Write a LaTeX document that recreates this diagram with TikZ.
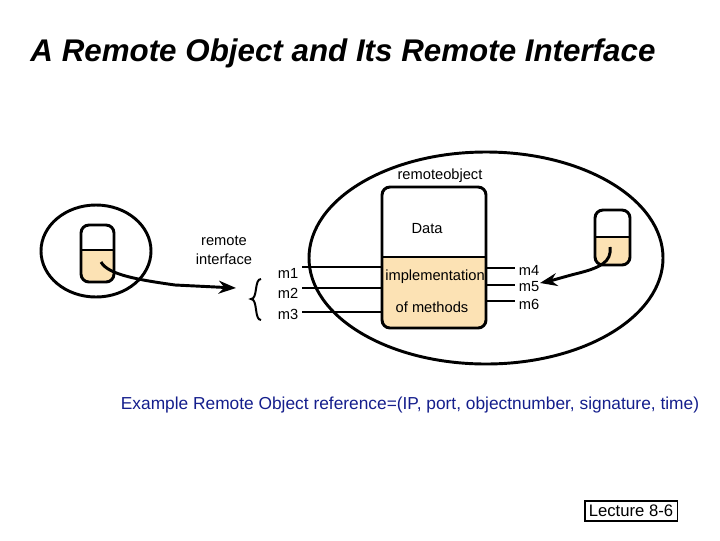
\documentclass[tikz,border=0pt]{standalone}
\usepackage{fontspec}
\setmainfont{Liberation Sans}
\usetikzlibrary{arrows.meta,positioning,decorations.pathreplacing}
\definecolor{implfill}{RGB}{252,226,180}
\definecolor{refblue}{RGB}{20,30,140}
\begin{document}
\begin{tikzpicture}[x=0.75pt, y=-0.75pt, >=Stealth,
	txt/.style={font=\fontsize{11}{12}\selectfont, inner sep=1pt},
	method/.style={line width=2.2pt},
	]
	\useasboundingbox (0,0) rectangle (720,540);
	\node[font=\fontsize{23.5}{26}\bfseries\itshape\selectfont](title) at (343,53) {A Remote Object and Its Remote Interface};
	% remote object
	\draw[line width=2.2pt] (486,258) ellipse (177 and 106);
	\begin{scope}
		\clip[rounded corners=6pt] (382,187) rectangle (486,328);
		\fill[implfill] (382,257) rectangle (486,328);
	\end{scope}
	\draw[line width=2.2pt, rounded corners=6pt] (382,187) rectangle (486,328);
	\draw[line width=2.2pt] (382,257) -- (486,257);
	\node[txt](obj) at (440,176) {remoteobject};
	\node[txt](data) at (427,229) {Data};
	\node[txt](impl) at (435,277) {implementation};
	\node[txt](meth) at (432,307) {of methods};
	% methods
	\foreach \m/\y in {1/267,2/288,3/312}
		{\draw[method] (302,\y) -- (382,\y);}
	\foreach \m/\y in {4/268,5/285,6/301}
		{\draw[method] (486,\y) -- (515,\y);}
	\node[txt](m1) at (288,273) {m1};
	\node[txt](m2) at (288,293) {m2};
	\node[txt](m3) at (288,314) {m3};
	\node[txt](m4) at (529,270) {m4};
	\node[txt](m5) at (529,287) {m5};
	\node[txt](m6) at (529,304) {m6};
	\draw[line width=1.5pt] (261,279) .. controls (254,279) and (258,299) .. (251,299)
		.. controls (258,299) and (254,320) .. (261,320);
	\node[txt, align=center](iface) at (224,250) {remote\\[2pt]interface};
	% client
	\draw[line width=2.2pt] (96,251) ellipse (55 and 46);
	\begin{scope}
		\clip[rounded corners=6pt] (81,225) rectangle (114,282);
		\fill[implfill] (81,250) rectangle (114,282);
	\end{scope}
	\draw[line width=2.2pt, rounded corners=6pt] (81,225) rectangle (114,282);
	\draw[line width=2.2pt] (81,250) -- (114,250);
	\coordinate (cl) at (101,262);
	\draw[line width=2.2pt, ->] (cl) .. controls (108,275) and (140,280) .. (175,285) -- (236,288);
	% server side stub
	\begin{scope}
		\clip[rounded corners=6pt] (595,210) rectangle (630,265);
		\fill[implfill] (595,237) rectangle (630,265);
	\end{scope}
	\draw[line width=2.2pt, rounded corners=6pt] (595,210) rectangle (630,265);
	\draw[line width=2.2pt] (595,237) -- (630,237);
	\coordinate (sr) at (610,247);
	\draw[line width=2.2pt, ->] (sr) .. controls (612,262) and (600,268) .. (575,274) .. controls (560,278) and (550,281) .. (540,283);
	% reference
	\node[font=\fontsize{13}{15}\selectfont, text=refblue](ref) at (410,405) {Example Remote Object reference=(IP, port, objectnumber, signature, time)};
	\node[draw, line width=1pt, font=\fontsize{12.5}{14}\selectfont, inner sep=3pt](lect) at (631,511) {Lecture 8-6};
\end{tikzpicture}
\end{document}
